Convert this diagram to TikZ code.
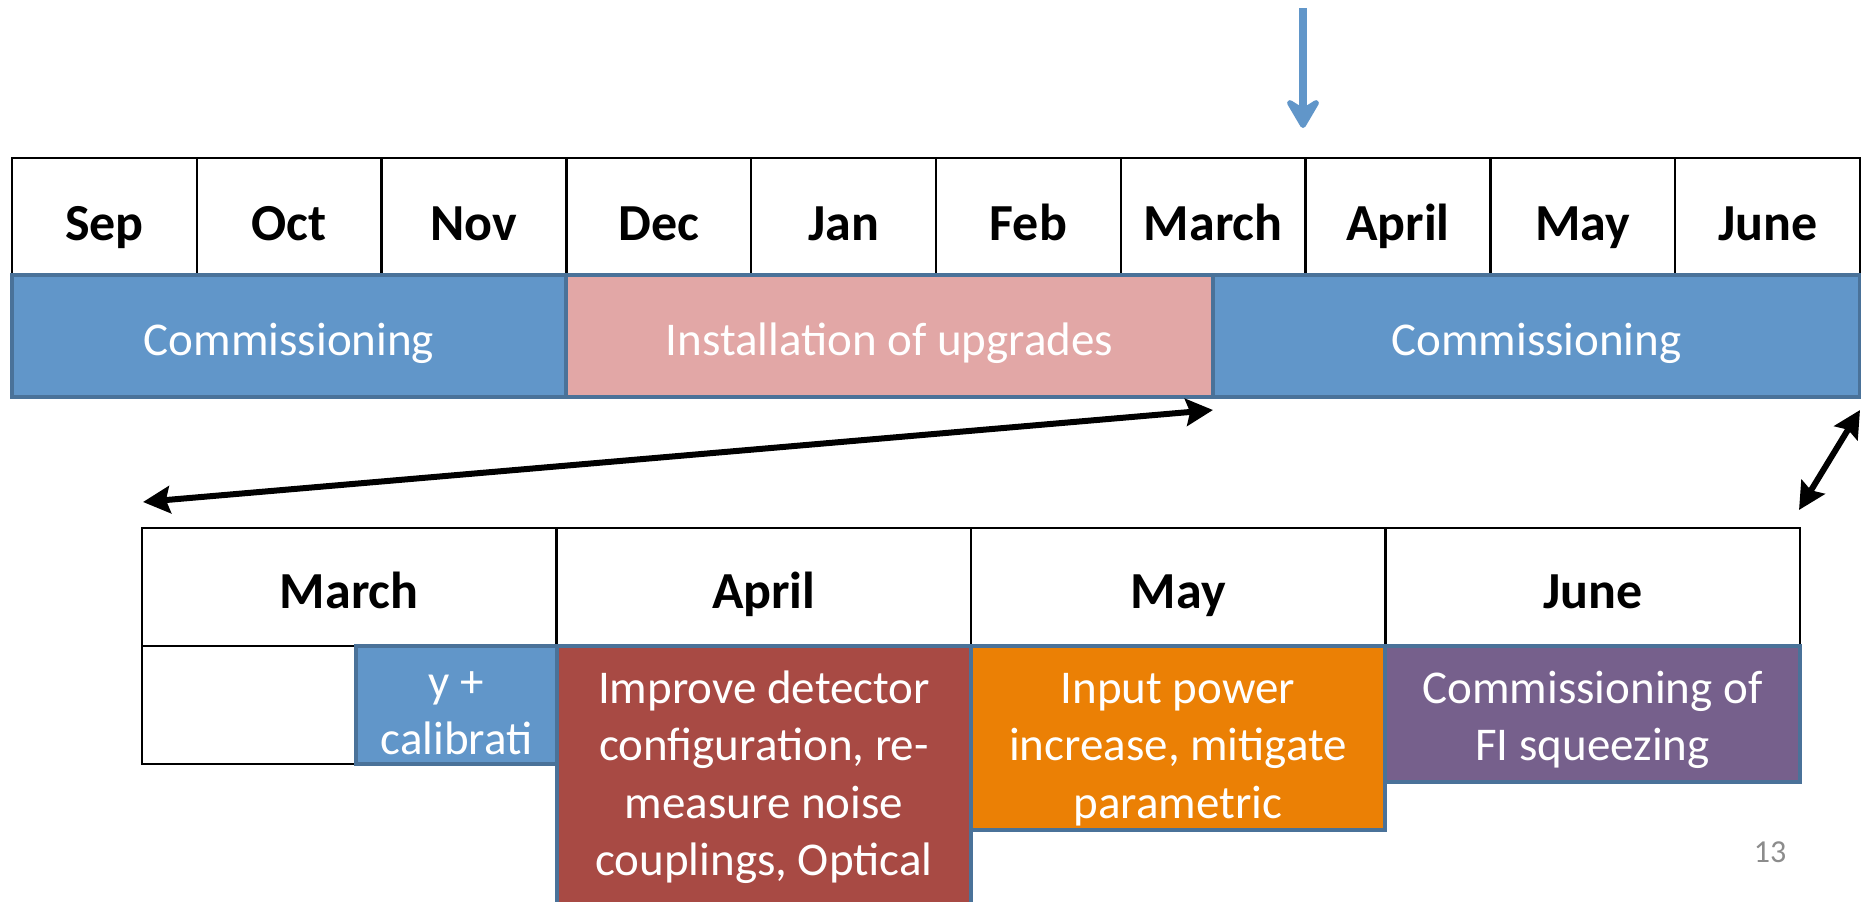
\documentclass[tikz,border=0pt]{standalone}
\usepackage{fontspec}
\setmainfont{Carlito}
\usetikzlibrary{arrows.meta}

\definecolor{barblue}{HTML}{6196C9}
\definecolor{barpink}{HTML}{E2A7A6}
\definecolor{baredge}{HTML}{4A7299}
\definecolor{taskred}{HTML}{A84A44}
\definecolor{taskorange}{HTML}{EB8005}
\definecolor{taskpurple}{HTML}{76608C}
\definecolor{pagegray}{HTML}{8C8C8C}

\tikzset{
  monthcell/.style={draw=black, line width=2.5pt, fill=white, inner sep=0pt,
    minimum height=117pt, font=\fontsize{52}{62}\selectfont\bfseries,
    text height=47pt, text depth=0pt},
  subcell/.style={draw=black, line width=2.5pt, fill=white, inner sep=0pt,
    minimum width=414.5pt, minimum height=118pt,
    font=\fontsize{52}{62}\selectfont\bfseries, text height=42pt, text depth=0pt},
  phasebar/.style={draw=baredge, line width=4pt, inner sep=0pt, text=white,
    minimum height=122pt, font=\fontsize{47}{56}\selectfont,
    text height=38pt, text depth=0pt},
  taskbox/.style={draw=baredge, line width=4pt, inner sep=0pt},
  tasktext/.style={text=white, align=center, inner sep=0pt, anchor=north,
    font=\fontsize{47}{57.5}\selectfont},
  zoomarrow/.style={line width=6pt, {Stealth[length=27pt, width=27pt, inset=4pt]}-{Stealth[length=27pt, width=27pt, inset=4pt]}},
  nowarrow/.style={line width=8.5pt, draw=barblue,
    -{Stealth[length=36pt, width=42pt, inset=13pt, round]}}
}

\newcommand{\firstline}{\rule{0pt}{36pt}}

\begin{document}
\begin{tikzpicture}[x=1pt, y=-1pt]
  \clip (0,0) rectangle (1861,902);
  \fill[white] (0,0) rectangle (1861,902);

  % month row of the full timeline
  \foreach \m [count=\i from 0] in {Sep,Oct,Nov,Dec,Jan,Feb,March,April,May,June}
    \node[monthcell, minimum width=184.8pt] (top\m) at ({12+184.8*(\i+0.5)},216.5) {\m};

  % phases
  \node[phasebar, fill=barblue, minimum width=554pt] (commA) at (289,336) {Commissioning};
  \node[phasebar, fill=barpink, minimum width=647pt] (install) at (889.5,336) {Installation of upgrades};
  \node[phasebar, fill=barblue, minimum width=647pt] (commB) at (1536.5,336) {Commissioning};

  % current-date marker
  \coordinate (nowtop) at (1303,8);
  \coordinate (nowtip) at (1303,128);
  \draw[nowarrow] (nowtop) -- (nowtip);

  % detailed commissioning plan
  \foreach \m [count=\i from 0] in {March,April,May,June}
    \node[subcell] (sub\m) at ({142+414.5*(\i+0.5)},587) {\m};
  \node[draw=black, line width=2.5pt, fill=white, minimum width=415pt, minimum height=118pt, inner sep=0pt] (marchrow) at (349.5,705) {};

  \node[taskbox, fill=barblue, minimum width=201pt, minimum height=118pt] (calib) at (456.5,705) {};
  \node[taskbox, fill=taskred, minimum width=414pt, minimum height=269pt] (improve) at (764,780.5) {};
  \node[taskbox, fill=taskorange, minimum width=414pt, minimum height=184pt] (power) at (1178,738) {};
  \node[taskbox, fill=taskpurple, minimum width=415pt, minimum height=136pt] (squeeze) at (1592.5,714) {};

  \begin{scope}
    \clip (356,646) rectangle (557,764);
    \node[tasktext] (calibtext) at (456.5,661) {\firstline y +\\calibrati};
  \end{scope}
  \node[tasktext] (improvetext) at (764,667) {\firstline Improve detector\\configuration, re-\\measure noise\\couplings, Optical};
  \node[tasktext] (powertext) at (1178,667) {\firstline Input power\\increase, mitigate\\parametric};
  \node[tasktext] (squeezetext) at (1592.5,667) {\firstline Commissioning of\\FI squeezing};

  % zoom connectors between the two timelines
  \coordinate (zoomLeft) at (143,502);
  \coordinate (zoomMid) at (1213,410);
  \coordinate (zoomRightTop) at (1860,410);
  \coordinate (zoomRightBot) at (1799,510);
  \draw[zoomarrow] (zoomLeft) -- (zoomMid);
  \draw[zoomarrow] (zoomRightTop) -- (zoomRightBot);

  % slide number
  \node[anchor=base, inner sep=0pt, text=pagegray, font=\fontsize{32}{38}\selectfont] (pagenum) at (1770,862) {13};
\end{tikzpicture}
\end{document}
